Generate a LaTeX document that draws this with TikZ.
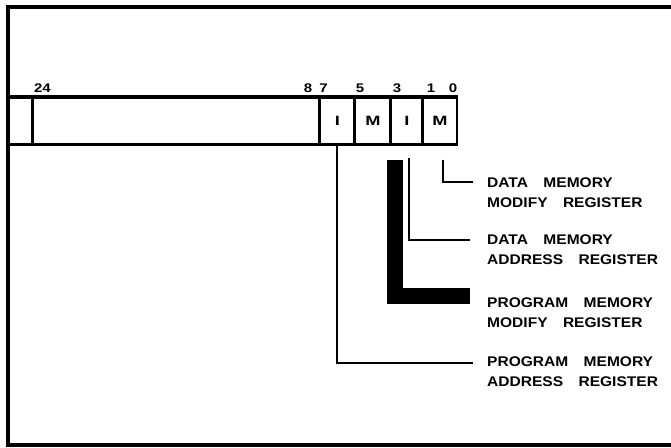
\documentclass[tikz,border=0pt]{standalone}
\usepackage{fontspec}
\newfontfamily\lblfont[FakeStretch=1.11]{Liberation Sans Bold}
\newfontfamily\bitfont[FakeStretch=1.2]{Liberation Sans Bold}
\newfontfamily\regfont[FakeStretch=1.35]{Liberation Sans Bold}
\newcommand{\wsp}{\hspace{1.1em}}
\tikzset{
  field/.style={minimum height=47.5pt, inner sep=0pt, font=\regfont\fontsize{13.5}{13.5}\selectfont},
  rib/.style={line width=3pt},
  bitno/.style={inner sep=0pt, font=\bitfont\fontsize{12.5}{12.5}\selectfont},
  lbl/.style={anchor=west, align=left, inner sep=0pt, font=\lblfont\fontsize{14}{20}\selectfont},
  lead/.style={line width=1.5pt},
  bar/.style={line width=16pt}
}
\begin{document}
\begin{tikzpicture}[x=1pt,y=-1pt]
\useasboundingbox (0,0) rectangle (671,447);
\draw[line width=4.5pt] (671,7) -- (8,7) -- (8,445) -- (671,445);
% register
\draw[line width=4pt] (10,97) -- (458,97);
\draw[line width=3.5pt] (10,144.5) -- (458,144.5);
\node[field, minimum width=287pt] (addr) at (176.5,120.75) {};
\node[field, minimum width=35pt] (pmi) at (337.5,120.75) {I};
\node[field, minimum width=36pt] (pmm) at (373,120.75) {M};
\node[field, minimum width=32pt] (dmi) at (407,120.75) {I};
\node[field, minimum width=34pt] (dmm) at (440,120.75) {M};
\foreach \f in {addr,pmi,pmm,dmi,dmm}
  \draw[rib] (\f.north west) -- (\f.south west);
\draw[line width=1.5pt] (dmm.north east) -- (dmm.south east);
\foreach \n/\x in {24/42.5,8/308,7/323.5,5/360,3/397,1/431,0/453}
  \node[bitno] (b\n) at (\x,88.5) {\n};
%
\node[lbl] (dmmL) at (487,193) {DATA\wsp MEMORY\\MODIFY\wsp REGISTER};
\node[lbl] (dmaL) at (487,250) {DATA\wsp MEMORY\\ADDRESS\wsp REGISTER};
\node[lbl] (pmmL) at (487,313) {PROGRAM\wsp MEMORY\\MODIFY\wsp REGISTER};
\node[lbl] (pmaL) at (487,372) {PROGRAM\wsp MEMORY\\ADDRESS\wsp REGISTER};
%
\draw[lead] ([xshift=3pt,yshift=-15pt]dmm.south) |- ([xshift=-14pt,yshift=11pt]dmmL.west);
\draw[lead] ([xshift=2pt,yshift=-13.5pt]dmi.south) |- ([xshift=-17pt,yshift=10pt]dmaL.west);
\draw[bar] ([xshift=4pt,yshift=-15.5pt]pmm.south east) |- ([xshift=-17pt,yshift=17.5pt]pmmL.west);
\draw[lead, line width=2pt] ([xshift=-0.5pt]pmi.south) |- ([xshift=-14pt,yshift=9pt]pmaL.west);
\end{tikzpicture}
\end{document}
